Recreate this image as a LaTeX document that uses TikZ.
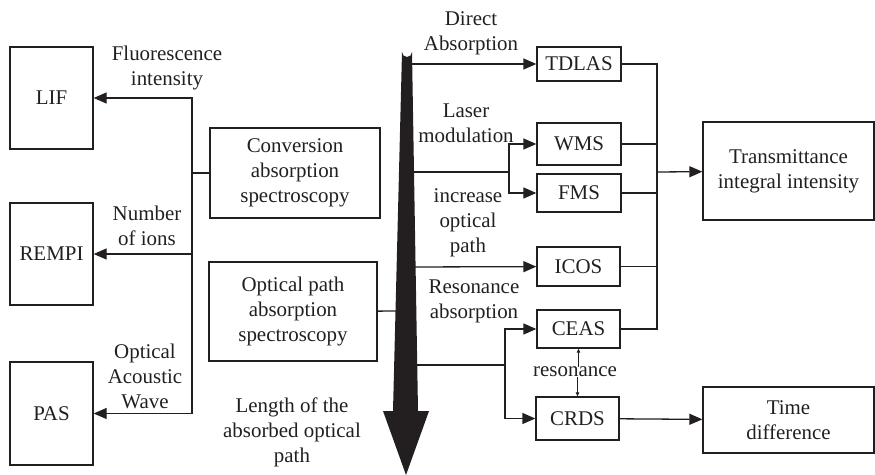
\documentclass[tikz,border=0pt]{standalone}
\usepackage{fontspec}
\setmainfont{Liberation Serif}
\usetikzlibrary{shapes.geometric,arrows,arrows.meta,positioning}
\definecolor{ink}{HTML}{231F20}
\tikzset{
 box/.style={draw=ink,line width=1.3bp,inner sep=0pt,align=center,text=ink},
 lbl/.style={align=center,text=ink,inner sep=0pt},
 link/.style={draw=ink,line width=1.3bp},
 tip/.style={link,-{Triangle[length=13bp,width=11bp]}},
 small tip/.style={draw=ink,line width=0.8bp,-{Triangle[length=4bp,width=3.5bp]}}
}
\begin{document}
\begin{tikzpicture}[x=1bp,y=-1bp,font=\fontsize{21}{25}\selectfont]
 \useasboundingbox (0,0) rectangle (875,475);
 % left boxes
 \node[box,minimum width=83bp,minimum height=102bp] (lif) at (51.5,98) {LIF};
 \node[box,minimum width=83bp,minimum height=102bp] (rempi) at (51.5,254) {REMPI};
 \node[box,minimum width=83bp,minimum height=103bp] (pas) at (51.5,413.5) {PAS};
 \node[box,minimum width=170bp,minimum height=90bp] (conv) at (295,173) {Conversion\\absorption\\spectroscopy};
 \node[box,minimum width=168bp,minimum height=99bp] (opt) at (293,311.5) {Optical path\\absorption\\spectroscopy};

 % right boxes
 \node[box,minimum width=84bp,minimum height=34bp] (tdlas) at (579,64) {TDLAS};
 \node[box,minimum width=84bp,minimum height=42bp] (wms) at (579,144) {WMS};
 \node[box,minimum width=84bp,minimum height=38bp] (fms) at (579,193) {FMS};
 \node[box,minimum width=83bp,minimum height=39bp] (icos) at (578.5,266.5) {ICOS};
 \node[box,minimum width=83bp,minimum height=38bp] (ceas) at (578.5,329) {CEAS};
 \node[box,minimum width=83bp,minimum height=43bp] (crds) at (577.5,418.5) {CRDS};
 \node[box,minimum width=171bp,minimum height=98bp] (trans) at (788.5,171) {Transmittance\\integral intensity};
 \node[box,minimum width=171bp,minimum height=66bp] (timed) at (788.5,420) {Time\\difference};

 % labels
 \node[lbl] (lfluo) at (167,68) {Fluorescence\\intensity};
 \node[lbl] (lions) at (147,226) {Number\\of ions};
 \node[lbl] (lwave) at (145,376) {Optical\\Acoustic\\Wave};
 \node[lbl] (llen) at (292,432) {Length of the\\absorbed optical\\path};
 \node[lbl] (ldir) at (471,33) {Direct\\Absorption};
 \node[lbl] (lmod) at (466,123) {Laser\\modulation};
 \node[lbl] (lincr) at (468,223) {increase\\optical\\path};
 \node[lbl] (lreso) at (474,301) {Resonance\\absorption};
 \node[lbl] (res) at (575,372) {resonance};

 % coordinates
 \coordinate (jl) at (192,173);
 \coordinate (a1) at (410,64);
 \coordinate (a2) at (410,172);
 \coordinate (j2) at (509,172);
 \coordinate (a3) at (410,267);
 \coordinate (a4) at (410,365);
 \coordinate (j4) at (505,365);
 \coordinate (a5) at (405,311);
 \coordinate (jr) at (657,172);

 % connectors
 \draw[link] (conv) -- (jl);
 \foreach \n in {lif,rempi,pas} {
  \draw[tip] (jl) |- (\n);
 };
 \draw[link] (opt) -- (a5);
 \draw[tip] (a1) -- (tdlas);
 \draw[link] (a2) -- (j2);
 \draw[tip] (j2) |- (wms);
 \draw[tip] (j2) |- (fms);
 \draw[tip] (a3) -- (icos);
 \draw[link] (a4) -- (j4);
 \draw[tip] (j4) |- (ceas);
 \draw[tip] (j4) |- (crds);
 \foreach \n in {tdlas,wms,fms,icos,ceas} {
  \draw[link] (\n) -| (jr);
 };
 \draw[tip] (jr) -- (trans);
 \draw[tip] (crds) -- (timed);
 \draw[small tip] (res.north -| ceas.south) -- (ceas.south);
 \draw[small tip] (res.south -| crds.north) -- (crds.north);

 % big arrow
 \fill[ink] (402,52) arc[start angle=180,end angle=0,radius=5] -- (418,411) -- (429,411)
  -- (406,475) -- (383,411) -- (393,411) -- cycle;
\end{tikzpicture}
\end{document}
